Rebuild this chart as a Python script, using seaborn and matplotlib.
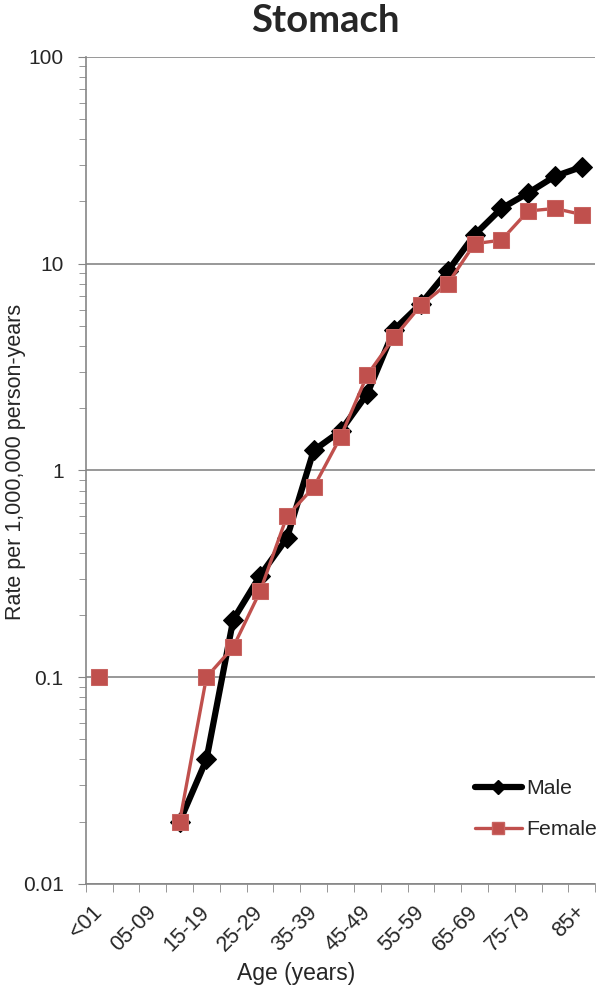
import matplotlib
matplotlib.use('Agg')
import matplotlib.pyplot as plt
import seaborn as sns
import numpy as np
from matplotlib.lines import Line2D
from matplotlib.ticker import FixedLocator, NullFormatter, LogLocator

age_groups = ['<01', '01-04', '05-09', '10-14', '15-19', '20-24', '25-29', '30-34',
              '35-39', '40-44', '45-49', '50-54', '55-59', '60-64', '65-69', '70-74',
              '75-79', '80-84', '85+']
male = [np.nan, np.nan, np.nan, 0.02, 0.04, 0.19, 0.31, 0.47, 1.25, 1.55, 2.35,
        4.8, 6.4, 9.2, 13.8, 18.5, 22.0, 26.5, 29.4]
female = [0.1, np.nan, np.nan, 0.02, 0.1, 0.14, 0.26, 0.6, 0.83, 1.45, 2.9,
          4.4, 6.3, 8.0, 12.5, 13.0, 18.0, 18.5, 17.3]
y_ticks = [0.01, 0.1, 1, 10, 100]
y_labels = ['0.01', '0.1', '1', '10', '100']

sns.set_style('white')
plt.rcParams['font.family'] = ['Liberation Sans', 'DejaVu Sans']

male_color = 'black'
female_color = '#C0504D'
grid_color = '#868686'

pos = np.arange(len(age_groups))
male_arr = np.array(male)
female_arr = np.array(female)

fig = plt.figure(figsize=(6, 9.91), dpi=100)
ax = fig.add_axes([0.143, 0.108, 0.849, 0.8345])

# female: isolated <01 point, then the connected run from 10-14 on
first = ~np.isnan(female_arr) & (pos < 3)
rest = ~np.isnan(female_arr) & (pos >= 3)
sns.lineplot(x=pos[rest], y=female_arr[rest], ax=ax, color=female_color, lw=2.4,
             marker='s', markersize=12, markeredgecolor='#C86461', zorder=3)
sns.lineplot(x=pos[first], y=female_arr[first], ax=ax, color=female_color, lw=2.4,
             marker='s', markersize=12, markeredgecolor='#C86461', zorder=3)

m = ~np.isnan(male_arr)
sns.lineplot(x=pos[m], y=male_arr[m], ax=ax, color=male_color, lw=4.5,
             marker='D', markersize=10, markeredgecolor=male_color, zorder=2)

ax.set_yscale('log')
ax.set_ylim(0.01, 100)
ax.set_xlim(-0.5, len(age_groups) - 0.5)

ax.set_yticks(y_ticks)
ax.set_yticklabels(y_labels, fontsize=15)
ax.yaxis.set_minor_locator(LogLocator(base=10, subs=np.arange(2, 10)))
ax.yaxis.set_minor_formatter(NullFormatter())

ax.set_xticks(pos[::2])
ax.set_xticklabels(age_groups[::2], rotation=45, ha='right', va='center',
                   rotation_mode='anchor', fontsize=15.5)
ax.xaxis.set_minor_locator(FixedLocator(np.arange(-0.5, len(age_groups), 1)))

ax.tick_params(axis='x', which='major', length=0, pad=18)
ax.tick_params(axis='x', which='minor', length=6, color=grid_color, direction='out', bottom=True)
ax.tick_params(axis='y', which='major', length=6, color=grid_color, direction='out', left=True, pad=10)
ax.tick_params(axis='y', which='minor', length=5, color=grid_color, direction='out', left=True)

ax.grid(axis='y', which='major', color=grid_color, lw=1.2)
ax.grid(axis='x', visible=False)
for side in ['top', 'right']:
    ax.spines[side].set_visible(False)
for side in ['left', 'bottom']:
    ax.spines[side].set_color(grid_color)
    ax.spines[side].set_linewidth(1.2)

ax.set_xlabel('Age (years)', fontsize=16.5)
ax.xaxis.set_label_coords(0.413, -0.094)
ax.set_ylabel('Rate per 1,000,000 person-years', fontsize=15.5)
ax.yaxis.set_label_coords(-0.118, 0.51)
ax.set_title('Stomach', fontsize=27.5, fontweight='bold', family=['Lato', 'DejaVu Sans'],
             x=0.47, pad=18)

handles = [Line2D([], [], color=male_color, lw=4.5, marker='D', markersize=7),
           Line2D([], [], color=female_color, lw=2.4, marker='s', markersize=9,
                  markeredgecolor='#C86461')]
ax.legend(handles, ['Male', 'Female'], loc='upper left', bbox_to_anchor=(0.764, 0.127),
          frameon=False, fontsize=15.3, handlelength=2.2, handletextpad=0.23,
          labelspacing=1.05, borderpad=0, borderaxespad=0)

fig.savefig('out.png', dpi=100)
